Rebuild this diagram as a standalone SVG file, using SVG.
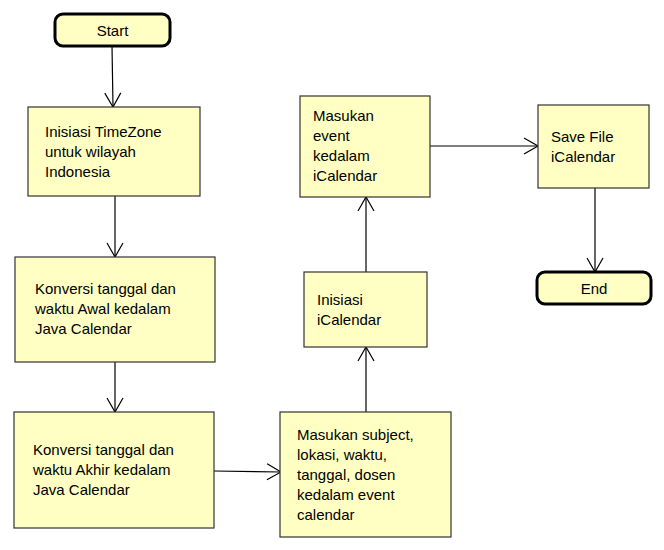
<svg xmlns="http://www.w3.org/2000/svg" width="664" height="550" viewBox="0 0 664 550">
<style>
.box{fill:#ffffc4;stroke:#333;stroke-width:1.2}
.term{fill:#ffffc4;stroke:#000;stroke-width:3}
text{font-family:"Liberation Sans",Arial,sans-serif;font-size:15px;fill:#000}
.c{text-anchor:middle}
.edge{stroke:#000;stroke-width:1.2;fill:none}
</style>
<defs>
<marker id="arr" markerUnits="userSpaceOnUse" markerWidth="20" markerHeight="20" viewBox="0 0 20 20" refX="15" refY="10" orient="auto">
<path d="M1,2 L15,10 L1,18" fill="none" stroke="#000" stroke-width="1.2"/>
</marker>
</defs>
<rect width="664" height="550" fill="#fff"/>
<g id="connectors">
<line class="edge" x1="112" y1="46" x2="113" y2="107" marker-end="url(#arr)"/>
<line class="edge" x1="115" y1="196" x2="115" y2="257" marker-end="url(#arr)"/>
<line class="edge" x1="115" y1="362" x2="115" y2="412" marker-end="url(#arr)"/>
<line class="edge" x1="214" y1="471" x2="281" y2="472" marker-end="url(#arr)"/>
<line class="edge" x1="366" y1="412" x2="366" y2="347" marker-end="url(#arr)"/>
<line class="edge" x1="366" y1="272" x2="366" y2="197" marker-end="url(#arr)"/>
<line class="edge" x1="430" y1="146" x2="538" y2="146" marker-end="url(#arr)"/>
<line class="edge" x1="595" y1="188" x2="595" y2="272" marker-end="url(#arr)"/>
</g>
<g id="start">
<rect class="term" x="55" y="14" width="115" height="32" rx="8"/>
<text class="c" x="112.5" y="36">Start</text>
</g>
<g id="timezone">
<rect class="box" x="28" y="107" width="172" height="89"/>
<text x="45" y="137">Inisiasi TimeZone</text>
<text x="45" y="157">untuk wilayah</text>
<text x="45" y="177">Indonesia</text>
</g>
<g id="konversi-awal">
<rect class="box" x="15" y="257" width="200" height="105"/>
<text x="35" y="294">Konversi tanggal dan</text>
<text x="35" y="314">waktu Awal kedalam</text>
<text x="35" y="334">Java Calendar</text>
</g>
<g id="konversi-akhir">
<rect class="box" x="14" y="412" width="200" height="116"/>
<text x="33" y="455">Konversi tanggal dan</text>
<text x="33" y="475">waktu Akhir kedalam</text>
<text x="33" y="495">Java Calendar</text>
</g>
<g id="masukan-subject">
<rect class="box" x="280" y="412" width="171" height="125"/>
<text x="297" y="440">Masukan subject,</text>
<text x="297" y="460">lokasi, waktu,</text>
<text x="297" y="480">tanggal, dosen</text>
<text x="297" y="500">kedalam event</text>
<text x="297" y="520">calendar</text>
</g>
<g id="inisiasi-icalendar">
<rect class="box" x="304" y="272" width="123" height="75"/>
<text x="317" y="305">Inisiasi</text>
<text x="317" y="325">iCalendar</text>
</g>
<g id="masukan-event">
<rect class="box" x="300" y="96" width="130" height="101"/>
<text x="313" y="121">Masukan</text>
<text x="313" y="141">event</text>
<text x="313" y="161">kedalam</text>
<text x="313" y="181">iCalendar</text>
</g>
<g id="save-file">
<rect class="box" x="538" y="105" width="111" height="83"/>
<text x="551" y="142">Save File</text>
<text x="551" y="162">iCalendar</text>
</g>
<g id="end">
<rect class="term" x="537" y="272" width="114" height="32" rx="8"/>
<text class="c" x="594" y="294">End</text>
</g>
</svg>
